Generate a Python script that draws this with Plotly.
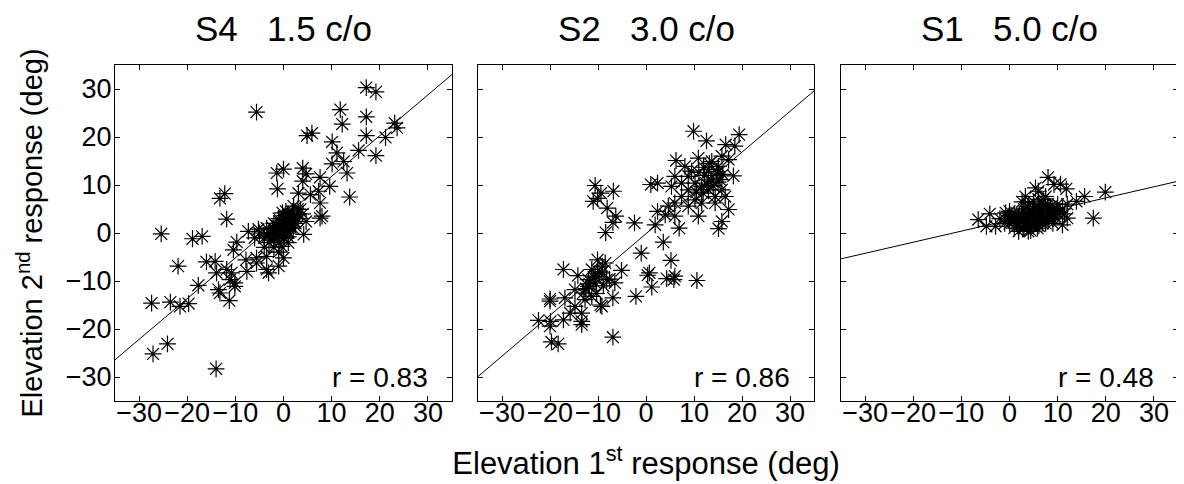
import plotly.graph_objects as go

# ---------------- data ----------------
panel_titles = ["S4  1.5 c/o", "S2  3.0 c/o", "S1  5.0 c/o"]
r_labels = ["r = 0.83", "r = 0.86", "r = 0.48"]
fit_slopes = [0.849, 0.850, 0.231]
fit_intercepts = [3.3, -0.15, 2.7]
tick_vals = [-30, -20, -10, 0, 10, 20, 30]
axis_range = [-35, 35]

s4_first = [17.2, 19.2, -5.6, 11.8, 17.2, 12.2, 23.1, 23.6, 4.9, 5.9, 17.2, 21.2, 10.1, 11.1,
            15.6, 19.2, 10.1, 12.5, 13.2, 4.0, 4.7, -1.4, 0.0, 4.0, 7.6, 9.6, -1.25, 13.75,
            -13.2, -12.2, -11.8, -25.4, -18.9, -16.9, 3.1, 5.6, 7.3, 7.6, 8.0, 7.6, 4.2, 4.7,
            2.1, 3.5, -21.9, -16.0, -14.2, -13.9, -11.8, -10.8, -11.1, -10.1, -10.1, -10.4,
            -9.7, -7.3, -7.8, -7.6, -5.6, -5.6, -5.2, -3.5, -3.5, -3.1, -1.0, 0.0, -0.35,
            -17.7, -13.5, -13.2, -11.25, -27.4, -23.5, -21.5, -19.7, -27.1, -24.1, -14.0,
            -4.0, -3.0, -2.0, -1.0, 0.0, 1.0, 0.0, -1.0, 1.0, 2.0, 0.0, -2.0, -3.0, 1.0, 2.0,
            -1.0, 0.0, 1.0, 0.0, -1.0, 2.0, 3.0, -2.0, 0.5, -0.5, 1.5, -4.0, -6.0, -5.0, 3.0,
            4.0, -2.0, -1.5, 0.5, 2.5, -3.5, -1.0, 1.0,
            -0.5, 0.8, -1.8, 1.2, -2.6, 0.3, 1.7, -0.9, 0.6, -1.3, 2.2, -0.2, 1.0, -2.2,
            0.1, -0.7, 1.4, -3.2, 0.9, 2.8]
s4_second = [30.3, 29.4, 25.2, 25.7, 24.2, 22.7, 22.9, 21.9, 20.3, 20.8, 20.3, 19.9, 19.0, 16.7,
             17.2, 16.1, 14.4, 14.9, 12.5, 13.5, 12.3, 12.5, 13.3, 10.8, 11.6, 9.7, 9.2, 7.5,
             7.2, 8.2, 2.9, -0.2, -1.2, -0.7, 8.3, 8.0, 8.7, 6.25, 3.5, 3.1, -0.3, 2.4,
             5.6, 4.9, -6.9, -6.0, -5.9, -8.3, -7.6, -8.3, -9.7, -10.4, -11.1, -3.5,
             -1.9, 0.35, -5.6, -8.0, -5.2, -6.25, 0.8, -4.9, -7.6, -8.3, -6.9, -5.2, -2.8,
             -10.9, -11.8, -12.5, -14.1, -14.6, -14.4, -15.3, -14.7, -25.2, -23.1, -28.3,
             -1.0, 0.0, -1.0, 0.0, 1.0, 2.0, 2.0, 1.0, 0.0, 3.0, 3.0, 0.0, -2.0, 4.0, 1.0,
             -2.0, -1.0, 1.0, 0.0, 3.0, 4.0, 4.0, 2.0, 2.5, -0.5, 3.0, -3.0, -1.0, 0.0, 5.0,
             4.0, -3.0, 1.5, 4.5, 2.0, 1.0, -4.0, -2.0,
             1.5, 0.5, -0.5, 2.8, -1.5, 3.6, 3.2, 0.7, 1.8, 0.2, 2.5, 4.2, -0.8, 1.0,
             -1.2, 2.3, 1.2, -0.6, 3.8, 3.0]

s2_first = [9.9, 12.6, 19.4, 16.6, 18.5, 6.25, 10.9, 8.1, 13.7, 15.8, 17.2, 18.2, 14.7, 13.0,
            15.1, 13.7, 15.4, 11.6, 10.2, 8.8, 6.0, 5.3, 1.0, 2.4, 7.4, 6.0, 4.65, 2.4, 4.0,
            6.0, 10.9, 14.4, 14.4, 17.2, 15.8, 15.1, 6.9, 8.8, 10.2, 11.6, 11.9, 8.8, 7.4,
            13.0, 15.8, 16.5, 1.9, -2.4, 3.6, -1.0, 5.2, 0.35, 0.7, 1.2, 4.3, 6.0, 5.8, 10.6,
            -2.1, -10.6, -9.4, -11.0, -10.1, -6.8, -8.1, -6.3, -6.9, -8.4, -5.1, -17.2, -14.2,
            -10.1, -8.5, -11.3, -9.2, -10.6, -8.2, -12.0, -6.5, -14.8, -13.1, -16.9, -20.0,
            -20.0, -11.3, -9.2, -6.9, -13.4, -14.8, -15.8, -17.2, -13.4, -13.4, -22.4, -19.9,
            -20.0, -19.7, -18.3, -6.9, -12.0, -10.6, -9.5, -12.7,
            12.2, 13.5, 14.8, 11.0, 9.5, 12.8, 16.0, 14.0, 10.5, 13.2, 15.0, 12.0,
            -9.8, -10.9, -8.9, -11.8, -9.1, -10.3, -12.5, -7.6]
s2_second = [21.2, 19.2, 20.5, 18.4, 18.1, 15.1, 15.6, 13.9, 14.9, 16.0, 15.3, 11.9, 12.5, 13.2,
             13.9, 10.8, 11.1, 9.7, 10.4, 11.8, 11.8, 9.7, 10.1, 10.4, 7.6, 6.25, 5.6, 4.5, 3.8,
             3.5, 3.5, 7.6, 6.25, 4.9, 2.4, 0.9, 1.0, 5.6, 6.9, 6.25, 8.3, 9.0, 10.4,
             9.0, 9.0, 7.6, 1.7, 2.1, -1.9, -4.2, -5.7, -8.8, -8.3, -11.25, -9.5, -9.0, -9.7, -9.9,
             -13.2, 9.9, 8.3, 6.6, 7.2, 8.7, 5.2, 3.5, 2.2, 0.1, -7.8, -7.6, -8.9,
             -5.6, -6.25, -7.6, -8.3, -9.0, -9.7, -9.7, -10.4, -11.8, -12.5, -13.5, -13.75,
             -14.2, -13.2, -15.3, -13.5, -16.7, -15.3, -16.7, -18.1, -18.4, -19.1, -18.2, -18.4,
             -19.4, -22.7, -23.1, -21.7, -11.1, -10.4, -15.0, -13.9,
             12.0, 11.2, 12.8, 12.6, 12.9, 10.0, 12.2, 9.8, 8.5, 14.5, 10.6, 13.7,
             -8.1, -9.2, -11.0, -10.6, -6.9, -12.6, -11.6, -9.6]

s1_first = [8.0, 9.25, 10.6, 11.8, 5.4, 6.0, 15.6, 13.9, 19.9, 17.4, -6.5, -4.1, -4.8, -2.9,
            -0.8, 1.9, 3.9, 11.0, 12.0, 3.3, 7.5,
            0.0, 1.0, 2.0, 3.0, 4.0, 5.0, 6.0, 7.0, 8.0, 9.0, 10.0, 2.0, 3.0, 4.0, 5.0, 6.0,
            1.0, 0.0, -1.0, 3.0, 4.0, 5.0, 6.0, 7.0, 8.0, 9.0, 10.0, 11.0, 2.0, 3.0, 4.0, 5.0,
            6.0, 7.0, 1.0, -1.0, -2.0, 0.0, 5.0, 8.0, 9.0, 12.0,
            0.5, 1.5, 2.5, 3.5, 4.5, 5.5, 6.5, 7.5, 8.5, 9.5, 10.5, 1.2, 2.2, 3.2, 4.2,
            5.2, 6.2, 7.2, 8.2, 9.2, 0.8, 1.8, 2.8, 3.8, 4.8, 5.8, 6.8, 7.8, 2.6, 4.4,
            6.6, 3.1, 5.1, 7.1, 1.6, 9.8, 11.4, -0.4, 4.9, 6.1]
s1_second = [11.6, 10.1, 10.2, 9.2, 9.4, 8.7, 7.6, 6.6, 8.5, 3.1, 2.8, 4.0, 1.4, 1.4,
             4.2, 0.35, 0.35, 1.7, 3.1, 7.6, 7.6,
             3.0, 2.5, 3.0, 2.0, 3.5, 4.0, 3.0, 5.0, 4.0, 5.0, 4.0, 4.0, 5.0, 2.0, 1.5, 5.5,
             4.0, 2.0, 3.0, 3.0, 4.5, 3.0, 2.5, 3.5, 6.0, 3.0, 6.0, 5.0, 1.5, 1.0, 6.0, 6.5,
             7.0, 7.0, 1.0, 2.0, 3.0, 4.5, 2.5, 2.5, 2.0, 6.0,
             3.5, 2.0, 4.0, 2.5, 1.5, 3.5, 4.5, 2.0, 5.5, 3.5, 4.5, 3.0, 2.5, 4.0, 3.0,
             2.0, 5.0, 6.0, 3.0, 4.0, 2.5, 3.5, 1.0, 5.5, 4.5, 1.0, 2.0, 4.5, 6.5, 0.5,
             4.0, 3.5, 5.0, 3.0, 3.0, 5.0, 4.0, 3.0, 2.0, 1.5]

first_responses = [s4_first, s2_first, s1_first]
second_responses = [s4_second, s2_second, s1_second]

# ---------------- figure ----------------
FONT = "Liberation Sans, Arial, Helvetica, sans-serif"
TICK_FONT = dict(family=FONT, size=27, color="black")
fig = go.Figure()

domains = [[0.0, 0.3170], [0.3415, 0.6576], [0.6830, 1.0]]
layout_axes = {}

for i in range(3):
    xa = "x" if i == 0 else f"x{i+1}"
    ya = "y" if i == 0 else f"y{i+1}"
    fig.add_trace(go.Scatter(
        x=first_responses[i], y=second_responses[i], mode="markers",
        marker=dict(symbol="asterisk-open", size=14, color="black",
                    line=dict(color="black", width=1.2)),
        xaxis=xa, yaxis=ya, showlegend=False))
    fx = list(axis_range)
    fy = [fit_intercepts[i] + fit_slopes[i] * v for v in fx]
    fig.add_trace(go.Scatter(
        x=fx, y=fy, mode="lines", line=dict(color="black", width=1),
        xaxis=xa, yaxis=ya, showlegend=False))

    xkey = "xaxis" if i == 0 else f"xaxis{i+1}"
    ykey = "yaxis" if i == 0 else f"yaxis{i+1}"
    layout_axes[xkey] = dict(domain=domains[i], anchor=ya)
    layout_axes[ykey] = dict(domain=[0, 1], anchor=xa, showticklabels=(i == 0))

    fig.add_annotation(x=30.5, y=-30, xref=xa, yref=ya, text=r_labels[i], showarrow=False,
                       xanchor="right", yanchor="middle",
                       font=dict(family=FONT, size=28, color="black"))
    fig.add_annotation(x=sum(domains[i]) / 2, y=1.0, xref="paper", yref="paper",
                       text=panel_titles[i].replace("  ", "&nbsp;&nbsp;&nbsp;"),
                       showarrow=False, xanchor="center", yanchor="bottom", yshift=15,
                       font=dict(family=FONT, size=35, color="black"))

fig.update_layout(**layout_axes)
fig.update_xaxes(range=axis_range, tickvals=tick_vals, ticks="inside", ticklen=5,
                 tickcolor="black", tickwidth=1, showline=True, linecolor="black",
                 linewidth=1, mirror="ticks", showgrid=False, zeroline=False,
                 tickfont=TICK_FONT, tickangle=0, automargin=False, ticklabelstandoff=-12)
fig.update_yaxes(range=axis_range, tickvals=tick_vals, ticks="inside", ticklen=5,
                 tickcolor="black", tickwidth=1, showline=True, linecolor="black",
                 linewidth=1, mirror="ticks", showgrid=False, zeroline=False,
                 tickfont=TICK_FONT, automargin=False, ticklabelstandoff=-3)
fig.update_layout(
    yaxis_title=dict(text="Elevation 2<sup>nd</sup> response (deg)",
                     font=dict(family=FONT, size=29, color="black"), standoff=14),
    xaxis2_title=dict(text="Elevation 1<sup>st</sup> response (deg)",
                      font=dict(family=FONT, size=31, color="black"), standoff=24),
)

# the page body adds an 8 px offset, so the figure is 8 px smaller and shifted
fig.update_layout(width=1176, height=476, margin=dict(l=107, r=6, t=57, b=83),
                  font=dict(family=FONT, size=25, color="black"),
                  paper_bgcolor="white", plot_bgcolor="white")

fig.write_html("out.html")
